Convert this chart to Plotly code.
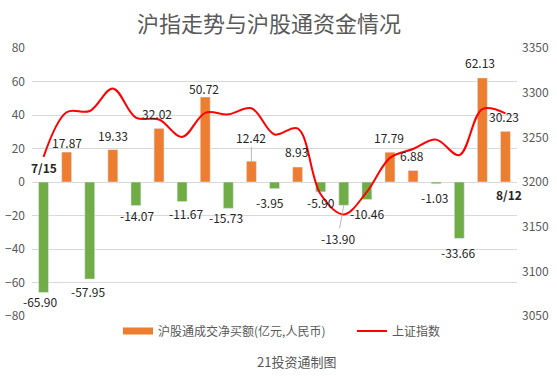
import plotly.graph_objects as go

dates = ["7/15", "7/18", "7/19", "7/20", "7/21", "7/22", "7/25", "7/26", "7/27", "7/28", "7/29",
         "8/1", "8/2", "8/3", "8/4", "8/5", "8/8", "8/9", "8/10", "8/11", "8/12"]
net_buy = [-65.90, 17.87, -57.95, 19.33, -14.07, 32.02, -11.67, 50.72, -15.73, 12.42, -3.95,
           8.93, -5.90, -13.90, -10.46, 17.79, 6.88, -1.03, -33.66, 62.13, 30.23]
sh_index = [3228.06, 3278.10, 3279.43, 3304.72, 3272.00, 3269.97, 3250.39, 3277.44, 3275.76,
            3282.58, 3253.24, 3259.96, 3186.27, 3163.67, 3189.04, 3227.03, 3236.93, 3247.43,
            3230.02, 3281.67, 3276.89]
left_ticks = [80, 60, 40, 20, 0, -20, -40, -60, -80]
right_ticks = [3350, 3300, 3250, 3200, 3150, 3100, 3050]

title_text = "沪指走势与沪股通资金情况"
bar_name = "沪股通成交净买额(亿元,人民币)"
line_name = "上证指数"
source_text = "21投资通制图"

ORANGE = "#ED7D31"
GREEN = "#70AD47"
RED = "#FF0000"
GRAY = "#595959"
FONT = "Noto Sans CJK SC"

W, H = 557, 378
ML, MR, MT, MB = 32, 40, 48, 62
PW, PH = W - ML - MR, H - MT - MB

xs = list(range(len(dates)))
bar_colors = [ORANGE if v >= 0 else GREEN for v in net_buy]

fig = go.Figure()
fig.add_trace(go.Bar(x=xs, y=net_buy, marker_color=bar_colors, width=0.43,
                     showlegend=False, yaxis="y", hoverinfo="skip"))
# legend proxy for the bar series
fig.add_trace(go.Scatter(x=[None], y=[None], mode="lines", name=bar_name,
                         line=dict(color=ORANGE, width=7), yaxis="y", legend="legend"))
fig.add_trace(go.Scatter(x=xs, y=sh_index, mode="lines", name=line_name,
                         line=dict(color=RED, width=2, shape="spline", smoothing=1.0),
                         yaxis="y2", legend="legend2", hoverinfo="skip"))

# label nudges (pixels): (xshift, yshift)
nudges = [(-3.5, -9), (0, 10), (-2, -12), (0, 14), (1, -10), (-2, 15), (4, -12),
          (-1, 9), (-2, -9), (0, 24), (-4.5, -14), (-1.5, 16), (0, -10.5), (-6, -33),
          (0, -14), (-1, 15), (-1.5, 15), (-2, -14), (-1, -14), (-2.5, 15.5), (-1.5, 15)]
annotations = []
for i, v in enumerate(net_buy):
    dx, dy = nudges[i]
    if i in (9, 13):
        annotations.append(dict(x=i, y=v, xref="x", yref="y", text=f"{v:.2f}",
                                showarrow=True, arrowhead=0, arrowwidth=0.8,
                                arrowcolor="#A6A6A6", ax=dx, ay=-dy,
                                font=dict(size=12, color="#262626", family=FONT)))
    else:
        annotations.append(dict(x=i, y=v, xref="x", yref="y", text=f"{v:.2f}",
                                showarrow=False, xshift=dx, yshift=dy,
                                font=dict(size=12, color="#262626", family=FONT)))

annotations.append(dict(x=0, y=sh_index[0], xref="x", yref="y2", text="<b>7/15</b>",
                        showarrow=False, yshift=-11, xshift=0,
                        font=dict(size=12, color="#262626", family=FONT)))
annotations.append(dict(x=len(dates) - 1, y=sh_index[-1], xref="x", yref="y2",
                        text="<b>8/12</b>", showarrow=False, yshift=-81, xshift=4,
                        font=dict(size=12, color="#262626", family=FONT)))
annotations.append(dict(x=(296 - ML) / PW, y=(H - MB - 361) / PH,
                        xref="paper", yref="paper", xanchor="center", yanchor="middle",
                        text=source_text, showarrow=False,
                        font=dict(size=13, color=GRAY, family=FONT)))

fig.update_layout(
    width=W, height=H,
    margin=dict(l=ML, r=MR, t=MT, b=MB, autoexpand=False),
    paper_bgcolor="white", plot_bgcolor="white",
    font=dict(family=FONT, color=GRAY),
    title=dict(text=title_text, x=269 / W, xanchor="center", xref="container",
               y=1 - 24 / H, yanchor="middle", yref="container",
               font=dict(size=22, color=GRAY, family=FONT)),
    xaxis=dict(range=[-0.5, len(dates) - 0.5], showticklabels=False, showgrid=False,
               zeroline=False, showline=False, ticks="", automargin=False),
    yaxis=dict(range=[-80, 80], tickvals=left_ticks, showgrid=True, gridcolor="#D9D9D9",
               gridwidth=1, zeroline=False, showline=False, automargin=False,
               tickfont=dict(size=12, color=GRAY, family=FONT), ticklabelstandoff=6),
    yaxis2=dict(range=[3050, 3350], tickvals=right_ticks, overlaying="y", side="right",
                showgrid=False, zeroline=False, showline=False, automargin=False,
                tickfont=dict(size=12, color=GRAY, family=FONT), ticklabelstandoff=4),
    legend=dict(orientation="h", x=118 / W, xref="container", xanchor="left",
                y=1 - 331 / H, yref="container", yanchor="middle",
                font=dict(size=12, color=GRAY, family=FONT), itemwidth=30),
    legend2=dict(orientation="h", x=352 / W, xref="container", xanchor="left",
                 y=1 - 331 / H, yref="container", yanchor="middle",
                 font=dict(size=12, color=GRAY, family=FONT), itemwidth=30),
    annotations=annotations,
)

# remove the default page margin so the figure fills the window from its top-left corner
fig.write_html("out.html", config={"displayModeBar": False},
               post_script="document.body.style.margin='0';")
